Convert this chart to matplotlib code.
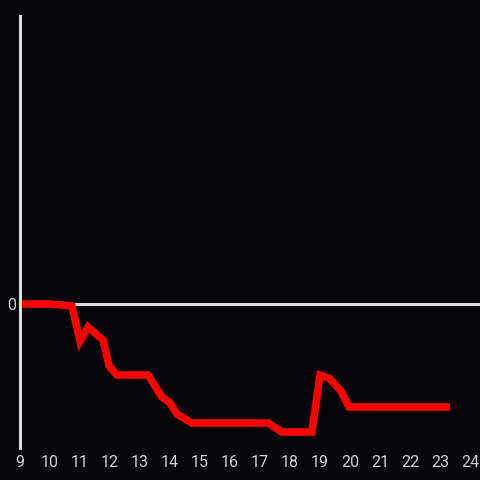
import numpy as np
import matplotlib
matplotlib.use("Agg")
import matplotlib.pyplot as plt

# hours of day and value
hours = [9.0, 10.0, 10.73, 11.0, 11.27, 11.77, 11.97, 12.23, 13.27, 13.73, 14.0,
         14.23, 14.73, 17.27, 17.73, 18.73, 19.0, 19.3, 19.7, 19.97, 23.33]
values = [0.0, 0.0, -0.5, -9.25, -5.75, -9.0, -15.5, -17.75, -17.75, -23.25, -24.75,
          -27.5, -29.75, -29.75, -32.0, -32.0, -17.75, -18.5, -21.75, -25.75, -25.75]
xticks = list(range(9, 25))

bg = "#050408"
fg = "#dcdcdc"
plt.rcParams['font.family'] = ['Roboto', 'DejaVu Sans']

fig = plt.figure(figsize=(4.8, 4.8), dpi=100, facecolor=bg)
ax = fig.add_axes([20 / 480, 32 / 480, 460 / 480, 432 / 480])
ax.set_facecolor(bg)

ax.axhline(0, color=fg, linewidth=2.2, zorder=1)
ax.plot(hours, values, color="#ff0000", linewidth=5.4,
        solid_joinstyle="miter", solid_capstyle="butt", zorder=2)

ax.set_xlim(9, 9 + 460 / 30)
ax.set_ylim(-36, 72)
ax.set_xticks(xticks)
ax.set_yticks([0])

for s in ["top", "right", "bottom"]:
    ax.spines[s].set_visible(False)
ax.spines["left"].set_color(fg)
ax.spines["left"].set_linewidth(2.2)
ax.tick_params(axis="both", length=0, colors="#d0d0d0", labelsize=11.5)
ax.tick_params(axis="x", pad=5)
ax.tick_params(axis="y", pad=3)

fig.savefig("out.png", facecolor=bg)
